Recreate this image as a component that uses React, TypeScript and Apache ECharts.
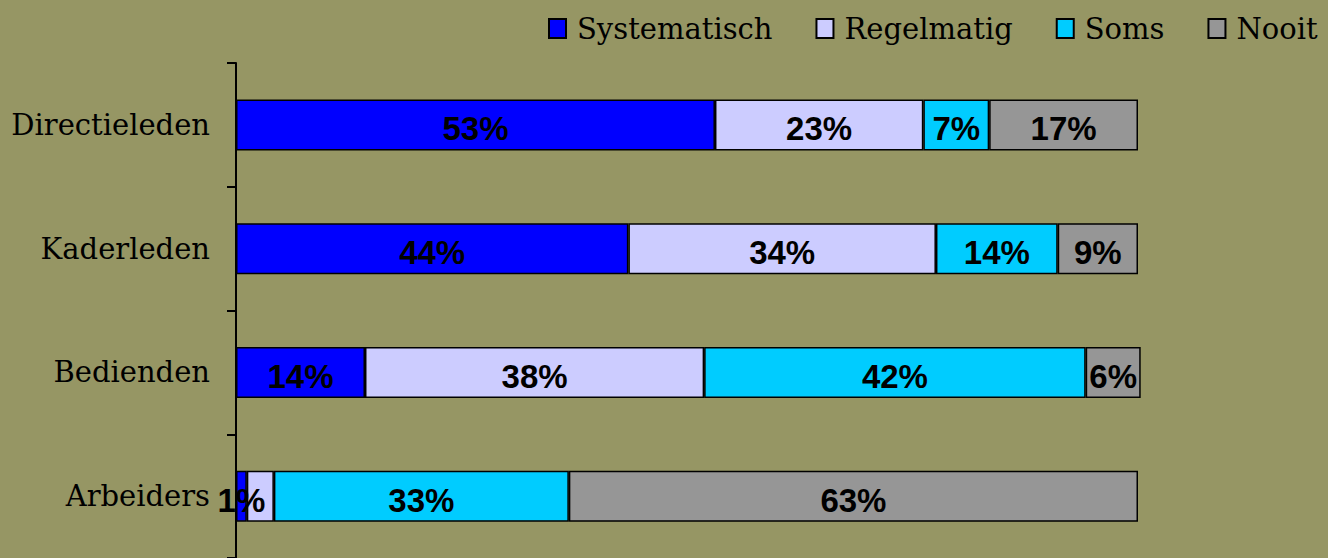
import React, { useEffect, useRef } from "react";
import * as echarts from "echarts";

const categories = ["Directieleden", "Kaderleden", "Bedienden", "Arbeiders"];
const seriesNames = ["Systematisch", "Regelmatig", "Soms", "Nooit"];
const systematisch = [53.1, 43.5, 14.3, 1.2];
const regelmatig = [23.1, 34.1, 37.6, 3.0];
const soms = [7.3, 13.5, 42.3, 32.7];
const nooit = [16.5, 8.9, 6.1, 63.1];
const seriesValues = [systematisch, regelmatig, soms, nooit];
const colors = ["#0000FF", "#CCCCFF", "#00CCFF", "#969696"];
// labels that were not shown in the original (series index, category index)
const hiddenLabels = [[1, 3]];

export default function App() {
  const ref = useRef<HTMLDivElement>(null);
  useEffect(() => {
    if (!ref.current) return;
    const chart = echarts.init(ref.current, null, { renderer: "svg" });
    const series = seriesNames.map((name, si) => ({
      name,
      type: "bar",
      stack: "total",
      barWidth: 51,
      clip: false,
      itemStyle: { color: colors[si], borderColor: "#000", borderWidth: 1.5 },
      label: {
        show: true,
        position: "inside",
        formatter: (p: any) => Math.round(p.value) + "%",
        fontFamily: "Liberation Sans, Arial, sans-serif",
        fontWeight: "bold",
        fontSize: 33,
        color: "#000",
        offset: [0, 4],
      },
      data: seriesValues[si].map((v, ci) =>
        hiddenLabels.some(([s, c]) => s === si && c === ci)
          ? { value: v, label: { show: false } }
          : v
      ),
    }));
    chart.setOption({
      animation: false,
      backgroundColor: "#969664",
      legend: {
        left: 548,
        top: 14,
        padding: 0,
        width: 780,
        itemWidth: 17,
        itemHeight: 19,
        itemGap: 43,
        icon: "rect",
        textStyle: {
          fontFamily: "DejaVu Serif, serif",
          fontSize: 29,
          color: "#000",
          padding: [0, 0, 0, 6],
        },
        data: seriesNames,
      },
      grid: { left: 236, top: 63, width: 902, height: 497 },
      xAxis: {
        type: "value",
        min: 0,
        max: 100,
        show: false,
      },
      yAxis: {
        type: "category",
        inverse: true,
        data: categories,
        axisLine: { show: true, lineStyle: { color: "#000", width: 2 } },
        axisTick: { show: true, length: 9, lineStyle: { color: "#000", width: 2 } },
        axisLabel: {
          fontFamily: "DejaVu Serif, serif",
          fontSize: 29,
          color: "#000",
          margin: 26,
        },
        splitLine: { show: false },
      },
      series,
    });
    return () => chart.dispose();
  }, []);
  return (
    <div
      ref={ref}
      style={{ position: "fixed", left: 0, top: 0, width: 1328, height: 558 }}
    />
  );
}
